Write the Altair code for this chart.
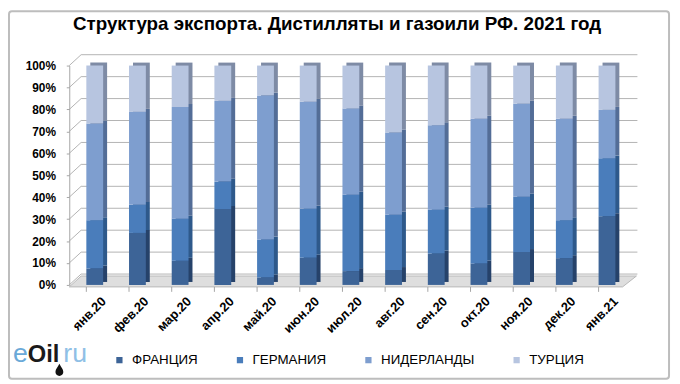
import altair as alt
import pandas as pd

months = ["янв.20", "фев.20", "мар.20", "апр.20", "май.20", "июн.20", "июл.20",
          "авг.20", "сен.20", "окт.20", "ноя.20", "дек.20", "янв.21"]
series = ["ФРАНЦИЯ", "ГЕРМАНИЯ", "НИДЕРЛАНДЫ", "ТУРЦИЯ"]
france = [7.5, 23.7, 11.0, 34.6, 3.4, 12.4, 6.3, 6.8, 14.3, 9.8, 15.0, 12.2, 31.3]
germany = [22.0, 12.8, 19.2, 12.5, 17.3, 22.3, 34.8, 25.2, 20.0, 25.4, 25.2, 17.3, 26.4]
netherlands = [44.1, 42.4, 50.9, 36.8, 65.7, 48.8, 39.3, 37.5, 38.5, 40.6, 42.4, 46.3, 22.1]
turkey = [26.4, 21.1, 18.9, 16.1, 13.6, 16.5, 19.6, 30.5, 27.2, 24.2, 17.4, 24.2, 20.2]
front_colors = ["#3d6497", "#4a7dbb", "#7e9ecf", "#b7c5e0"]
side_colors = ["#26426a", "#2e598b", "#536d97", "#7e8ba5"]
y_ticks = [0, 0.1, 0.2, 0.3, 0.4, 0.5, 0.6, 0.7, 0.8, 0.9, 1.0]

rows = []
for si, (name, vals) in enumerate(zip(series, [france, germany, netherlands, turkey])):
    for m, v in zip(months, vals):
        rows.append({"month": m, "series": name, "value": v, "idx": si,
                     "side": side_colors[si]})
df = pd.DataFrame(rows)
ticks_df = pd.DataFrame({"t": y_ticks})
one = pd.DataFrame({"a": [0]})

FONT = "Liberation Sans, Arial, sans-serif"

xscale = alt.Scale(domain=months, paddingInner=0.606, paddingOuter=0.4)
yscale = alt.Scale(domain=[0, 1])

x_axis = alt.Axis(labelAngle=-45, labelAlign="right", labelBaseline="top",
                  labelPadding=10, labelOffset=5, ticks=False, domain=False,
                  labelFont=FONT, labelFontSize=13, labelFontWeight="bold",
                  labelColor="#000000", title=None, zindex=1)
y_axis = alt.Axis(values=y_ticks, format=".0%", grid=False, domainColor="#a6a6a6",
                  tickColor="#a6a6a6", tickSize=3, labelPadding=11,
                  labelFont=FONT, labelFontSize=12, labelFontWeight="bold",
                  labelColor="#000000", title=None, zindex=1)

border = alt.Chart(one).mark_rect(fillOpacity=0, stroke="#bdbdbd", strokeWidth=2,
                                  cornerRadius=3).encode(
    x=alt.value(-61), x2=alt.value(607), y=alt.value(-55), y2=alt.value(317))

grid = alt.Chart(ticks_df).mark_rule(color="#b3b3b3", strokeWidth=1, yOffset=-11).encode(
    y=alt.Y("t:Q", scale=yscale, axis=y_axis),
    x=alt.value(12), x2=alt.value(575))

connectors = alt.Chart(ticks_df).mark_rule(color="#b3b3b3", strokeWidth=1, y2Offset=-11).encode(
    y=alt.Y("t:Q", scale=yscale, axis=y_axis),
    y2=alt.Y2("t:Q"),
    x=alt.value(0), x2=alt.value(12))

floor = alt.Chart(one).mark_point(
    shape="M-1,0.0192 L0.951,0.0192 L1,-0.0192 L-0.958,-0.0192 Z",
    filled=True, fill="#dedede", stroke="#b8b8b8", strokeWidth=1, opacity=1,
    size=574 * 574).encode(x=alt.value(287), y=alt.value(218.5))

xticks = alt.Chart(pd.DataFrame({"month": months})).mark_rule(
    color="#a6a6a6", strokeWidth=1).encode(
    x=alt.X("month:N", scale=xscale, bandPosition=0, axis=x_axis, sort=months),
    y=alt.value(224), y2=alt.value(229))

back = alt.Chart(df).mark_bar(xOffset=4, yOffset=-3).encode(
    x=alt.X("month:N", scale=xscale, axis=x_axis, sort=months),
    y=alt.Y("value:Q", stack="normalize", scale=yscale, axis=y_axis),
    color=alt.Color("side:N", scale=None),
    order=alt.Order("idx:Q"))

front = alt.Chart(df).mark_bar().encode(
    x=alt.X("month:N", scale=xscale, sort=months, axis=x_axis),
    y=alt.Y("value:Q", stack="normalize", scale=yscale, axis=y_axis),
    color=alt.Color("series:N", scale=alt.Scale(domain=series, range=front_colors),
                    legend=alt.Legend(title=None, orient="none", legendX=44, legendY=291,
                                      direction="horizontal", columns=4, columnPadding=35,
                                      symbolType="square", symbolSize=40,
                                      symbolStrokeWidth=0, labelOffset=6,
                                      labelFont=FONT, labelFontSize=13.5,
                                      labelColor="#000000", padding=0)),
    order=alt.Order("idx:Q"))

title = alt.Chart(one).mark_text(text="Структура экспорта. Дистилляты и газоили РФ. 2021 год",
                                 font=FONT, fontSize=19, fontWeight="bold", color="#000000",
                                 align="center", baseline="middle").encode(
    x=alt.value(271), y=alt.value(-42))

logo_e = alt.Chart(one).mark_text(text="e", font=FONT, fontSize=27, color="#6aa9d8",
                                  align="left", baseline="alphabetic").encode(
    x=alt.value(-57), y=alt.value(300))
logo_oil = alt.Chart(one).mark_text(text="Oil", font=FONT, fontSize=24, fontWeight="bold",
                                    color="#1a1a1a", align="left",
                                    baseline="alphabetic").encode(
    x=alt.value(-42), y=alt.value(300))
logo_ru = alt.Chart(one).mark_text(text="ru", font=FONT, fontSize=27, color="#8fc0e6",
                                   align="left", baseline="alphabetic").encode(
    x=alt.value(-6), y=alt.value(300))
logo_drop = alt.Chart(one).mark_point(
    shape="M0,-1 C0.3,-0.4 0.65,-0.1 0.65,0.35 A0.65,0.65 0 1 1 -0.65,0.35 C-0.65,-0.1 -0.3,-0.4 0,-1 Z",
    filled=True, color="#111111", size=150, opacity=1).encode(
    x=alt.value(-10), y=alt.value(308))

chart = alt.layer(border, grid, connectors, floor, xticks, back, front, title,
                  logo_e, logo_oil, logo_ru, logo_drop).properties(
    width=570, height=222,
    autosize=alt.AutoSizeParams(type="none"),
    padding={"left": 62, "top": 56, "right": 40, "bottom": 98},
    background="white",
).configure_view(strokeWidth=0)

chart.save("out.html", embed_options={"renderer": "svg", "actions": False})
